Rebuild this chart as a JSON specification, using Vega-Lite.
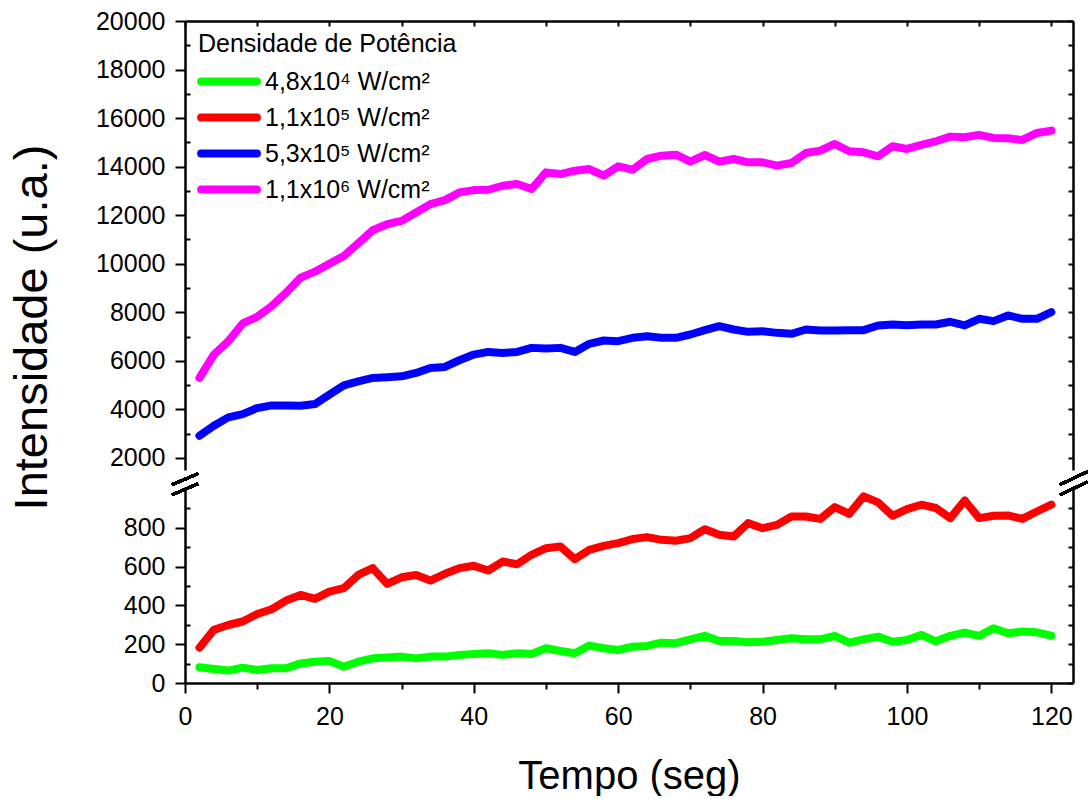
{
  "$schema": "https://vega.github.io/schema/vega-lite/v6.json",
  "padding": {"left": 8, "top": 9, "right": 0, "bottom": 0},
  "autosize": {"type": "pad"},
  "background": "white",
  "config": {
    "font": "Liberation Sans",
    "view": {"stroke": null},
    "axis": {"domainColor": "black", "domainWidth": 2.5, "tickColor": "black", "tickWidth": 2, "labelColor": "black", "labelFontSize": 25, "labelFont": "Liberation Sans", "titleFont": "Liberation Sans", "titleColor": "black", "titleFontWeight": "normal", "grid": false, "labelFlush": false, "labelOverlap": false}
  },
  "datasets": {
    "d": [
      {"t": 2, "g": 81, "r": 182, "b": 2909, "m": 5293},
      {"t": 4, "g": 72, "r": 274, "b": 3322, "m": 6256},
      {"t": 6, "g": 64, "r": 299, "b": 3667, "m": 6806},
      {"t": 8, "g": 79, "r": 317, "b": 3804, "m": 7537},
      {"t": 10, "g": 67, "r": 356, "b": 4052, "m": 7813},
      {"t": 12, "g": 76, "r": 380, "b": 4162, "m": 8253},
      {"t": 14, "g": 76, "r": 425, "b": 4162, "m": 8804},
      {"t": 16, "g": 101, "r": 454, "b": 4149, "m": 9424},
      {"t": 18, "g": 110, "r": 434, "b": 4218, "m": 9672},
      {"t": 20, "g": 114, "r": 471, "b": 4603, "m": 10003},
      {"t": 22, "g": 84, "r": 489, "b": 4989, "m": 10320},
      {"t": 24, "g": 110, "r": 557, "b": 5154, "m": 10843},
      {"t": 26, "g": 127, "r": 592, "b": 5292, "m": 11380},
      {"t": 28, "g": 132, "r": 511, "b": 5320, "m": 11628},
      {"t": 30, "g": 136, "r": 545, "b": 5361, "m": 11766},
      {"t": 32, "g": 127, "r": 557, "b": 5499, "m": 12110},
      {"t": 34, "g": 136, "r": 528, "b": 5706, "m": 12455},
      {"t": 36, "g": 136, "r": 563, "b": 5747, "m": 12620},
      {"t": 38, "g": 145, "r": 592, "b": 6022, "m": 12937},
      {"t": 40, "g": 150, "r": 604, "b": 6256, "m": 13033},
      {"t": 42, "g": 153, "r": 580, "b": 6366, "m": 13047},
      {"t": 44, "g": 145, "r": 626, "b": 6325, "m": 13212},
      {"t": 46, "g": 153, "r": 612, "b": 6366, "m": 13281},
      {"t": 48, "g": 150, "r": 661, "b": 6532, "m": 13074},
      {"t": 50, "g": 179, "r": 695, "b": 6504, "m": 13763},
      {"t": 52, "g": 165, "r": 704, "b": 6532, "m": 13694},
      {"t": 54, "g": 153, "r": 638, "b": 6366, "m": 13832},
      {"t": 56, "g": 193, "r": 686, "b": 6697, "m": 13901},
      {"t": 58, "g": 179, "r": 707, "b": 6835, "m": 13625},
      {"t": 60, "g": 170, "r": 721, "b": 6807, "m": 14012},
      {"t": 62, "g": 187, "r": 742, "b": 6945, "m": 13873},
      {"t": 64, "g": 191, "r": 752, "b": 7014, "m": 14314},
      {"t": 66, "g": 208, "r": 738, "b": 6945, "m": 14452},
      {"t": 68, "g": 205, "r": 733, "b": 6945, "m": 14492},
      {"t": 70, "g": 225, "r": 747, "b": 7083, "m": 14204},
      {"t": 72, "g": 243, "r": 793, "b": 7262, "m": 14479},
      {"t": 74, "g": 217, "r": 764, "b": 7427, "m": 14204},
      {"t": 76, "g": 217, "r": 755, "b": 7289, "m": 14314},
      {"t": 78, "g": 210, "r": 824, "b": 7193, "m": 14176},
      {"t": 80, "g": 213, "r": 798, "b": 7220, "m": 14176},
      {"t": 82, "g": 222, "r": 815, "b": 7151, "m": 14039},
      {"t": 84, "g": 231, "r": 858, "b": 7110, "m": 14149},
      {"t": 86, "g": 225, "r": 858, "b": 7289, "m": 14562},
      {"t": 88, "g": 225, "r": 846, "b": 7248, "m": 14658},
      {"t": 90, "g": 243, "r": 907, "b": 7248, "m": 14934},
      {"t": 92, "g": 208, "r": 872, "b": 7262, "m": 14631},
      {"t": 94, "g": 225, "r": 962, "b": 7262, "m": 14590},
      {"t": 96, "g": 239, "r": 931, "b": 7455, "m": 14424},
      {"t": 98, "g": 213, "r": 862, "b": 7496, "m": 14837},
      {"t": 100, "g": 222, "r": 896, "b": 7469, "m": 14727},
      {"t": 102, "g": 248, "r": 919, "b": 7496, "m": 14893},
      {"t": 104, "g": 215, "r": 902, "b": 7496, "m": 15044},
      {"t": 106, "g": 243, "r": 850, "b": 7606, "m": 15236},
      {"t": 108, "g": 260, "r": 941, "b": 7455, "m": 15209},
      {"t": 110, "g": 243, "r": 850, "b": 7730, "m": 15306},
      {"t": 112, "g": 282, "r": 862, "b": 7634, "m": 15182},
      {"t": 114, "g": 256, "r": 864, "b": 7868, "m": 15168},
      {"t": 116, "g": 265, "r": 846, "b": 7730, "m": 15099},
      {"t": 118, "g": 261, "r": 884, "b": 7730, "m": 15388},
      {"t": 120, "g": 244, "r": 919, "b": 8006, "m": 15485}
    ]
  },
  "data": {"name": "d"},
  "spacing": 19,
  "bounds": "flush",
  "resolve": {"legend": {"color": "independent"}},
  "vconcat": [
    {
      "width": 888,
      "height": 449,
      "transform": [{"fold": ["b", "m"], "as": ["serie", "v"]}],
      "layer": [
        {
          "mark": {"type": "line", "strokeWidth": 8, "strokeCap": "round", "strokeJoin": "round"},
          "encoding": {
            "x": {"field": "t", "type": "quantitative", "scale": {"domain": [0, 123], "nice": false, "zero": false},
              "axis": {"orient": "top", "labels": false, "title": null, "values": [0, 10, 20, 30, 40, 50, 60, 70, 80, 90, 100, 110, 120], "tickSize": -5}},
            "y": {"field": "v", "type": "quantitative", "scale": {"domain": [1500, 20000], "nice": false, "zero": false},
              "axis": {"orient": "left", "values": [2000, 3000, 4000, 5000, 6000, 7000, 8000, 9000, 10000, 11000, 12000, 13000, 14000, 15000, 16000, 17000, 18000, 19000, 20000], "format": "d",
                "labelExpr": "datum.value % 2000 == 0 ? datum.label : ''",
                "tickSize": {"condition": {"test": "datum.value % 2000 == 0", "value": 10}, "value": -5},
                "labelPadding": 10,
                "title": "Intensidade (u.a.)", "titleFontSize": 47, "titleX": -139, "titleY": 306, "titleAlign": "center", "titleBaseline": "alphabetic", "titleAngle": -90}},
            "color": {"field": "serie", "type": "nominal",
              "scale": {"domain": ["g", "r", "b", "m"], "range": ["#00ff00", "#ff0000", "#0000ff", "#ff00ff"]},
              "legend": {"orient": "none", "legendX": 13, "legendY": 11, "direction": "vertical", "padding": 0,
                "title": "Densidade de Potência", "titleFontSize": 25, "titleFont": "Liberation Sans", "titleFontWeight": "normal", "titleColor": "black", "titlePadding": 10, "titleLimit": 0,
                "labelFontSize": 25, "labelFont": "Liberation Sans", "labelColor": "black", "labelOffset": 38, "labelLimit": 0,
                "symbolType": "M-1.1,0H4.3", "symbolStrokeWidth": 8, "symbolSize": 427, "rowPadding": 3,
                "labelExpr": "{'g': '4,8x10⁴ W/cm²', 'r': '1,1x10⁵ W/cm²', 'b': '5,3x10⁵ W/cm²', 'm': '1,1x10⁶ W/cm²'}[datum.label]",
                "encode": {"symbols": {"update": {"strokeCap": {"value": "round"}}}}}}
          }
        },
        {
          "mark": {"type": "line", "opacity": 0},
          "encoding": {
            "x": {"field": "t", "type": "quantitative", "scale": {"domain": [0, 123], "nice": false, "zero": false}, "axis": null},
            "y": {"field": "v", "type": "quantitative", "scale": {"domain": [1500, 20000], "nice": false, "zero": false},
              "axis": {"orient": "right", "labels": false, "title": null, "values": [2000, 3000, 4000, 5000, 6000, 7000, 8000, 9000, 10000, 11000, 12000, 13000, 14000, 15000, 16000, 17000, 18000, 19000, 20000], "tickSize": -5}},
            "detail": {"field": "serie"}
          }
        }
      ],
      "resolve": {"axis": {"x": "independent", "y": "independent"}}
    },
    {
      "width": 888,
      "height": 194,
      "transform": [{"fold": ["g", "r"], "as": ["serie", "v"]}],
      "layer": [
        {
          "mark": {"type": "line", "strokeWidth": 8, "strokeCap": "round", "strokeJoin": "round"},
          "encoding": {
            "x": {"field": "t", "type": "quantitative", "scale": {"domain": [0, 123], "nice": false, "zero": false},
              "axis": {"orient": "bottom", "values": [0, 10, 20, 30, 40, 50, 60, 70, 80, 90, 100, 110, 120],
                "labelExpr": "datum.value % 20 == 0 ? datum.label : ''",
                "tickSize": {"condition": {"test": "datum.value % 20 == 0", "value": 10}, "value": 6},
                "labelPadding": 11, "title": "Tempo (seg)", "titleFontSize": 40, "titlePadding": 27}},
            "y": {"field": "v", "type": "quantitative", "scale": {"domain": [0, 1000], "nice": false, "zero": false},
              "axis": {"orient": "left", "values": [0, 100, 200, 300, 400, 500, 600, 700, 800, 900],
                "labelExpr": "datum.value % 200 == 0 ? datum.label : ''",
                "tickSize": {"condition": {"test": "datum.value % 200 == 0", "value": 10}, "value": -5},
                "labelPadding": 10, "title": null}},
            "color": {"field": "serie", "type": "nominal",
              "scale": {"domain": ["g", "r", "b", "m"], "range": ["#00ff00", "#ff0000", "#0000ff", "#ff00ff"]},
              "legend": null}
          }
        },
        {
          "mark": {"type": "line", "opacity": 0},
          "encoding": {
            "x": {"field": "t", "type": "quantitative", "scale": {"domain": [0, 123], "nice": false, "zero": false}, "axis": null},
            "y": {"field": "v", "type": "quantitative", "scale": {"domain": [0, 1000], "nice": false, "zero": false},
              "axis": {"orient": "right", "labels": false, "title": null, "values": [0, 100, 200, 300, 400, 500, 600, 700, 800, 900], "tickSize": -5}},
            "detail": {"field": "serie"}
          }
        },
        {
          "mark": {"type": "rule", "color": "black", "strokeWidth": 2.5},
          "encoding": {
            "x": {"datum": -1.8, "type": "quantitative", "axis": null},
            "x2": {"datum": 1.8},
            "y": {"datum": 970, "type": "quantitative", "axis": null},
            "y2": {"datum": 1027}
          }
        },
        {
          "mark": {"type": "rule", "color": "black", "strokeWidth": 2.5},
          "encoding": {
            "x": {"datum": -1.8, "type": "quantitative", "axis": null},
            "x2": {"datum": 1.8},
            "y": {"datum": 1022, "type": "quantitative", "axis": null},
            "y2": {"datum": 1079}
          }
        },
        {
          "mark": {"type": "rule", "color": "black", "strokeWidth": 2.5},
          "encoding": {
            "x": {"datum": 121.2, "type": "quantitative", "axis": null},
            "x2": {"datum": 125},
            "y": {"datum": 970, "type": "quantitative", "axis": null},
            "y2": {"datum": 1037}
          }
        },
        {
          "mark": {"type": "rule", "color": "black", "strokeWidth": 2.5},
          "encoding": {
            "x": {"datum": 121.2, "type": "quantitative", "axis": null},
            "x2": {"datum": 125},
            "y": {"datum": 1022, "type": "quantitative", "axis": null},
            "y2": {"datum": 1089}
          }
        }
      ],
      "resolve": {"axis": {"x": "independent", "y": "independent"}}
    }
  ]
}
